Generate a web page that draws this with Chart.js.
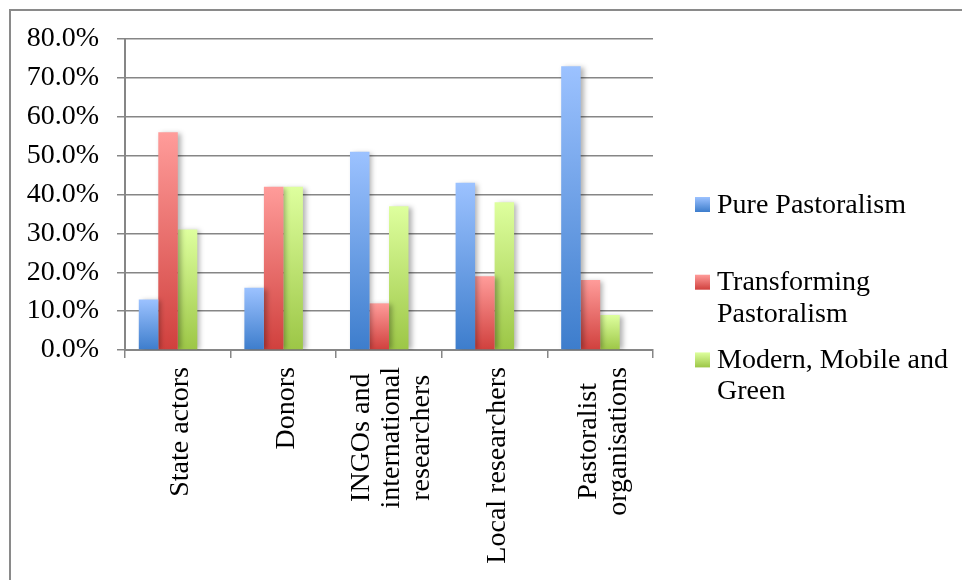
<!DOCTYPE html>
<html>
<head>
<meta charset="utf-8">
<script src="https://cdn.jsdelivr.net/npm/chart.js@4.4.1/dist/chart.umd.min.js"></script>
<style>
  html, body { margin: 0; padding: 0; background: #ffffff; overflow: hidden; }
  #wrap { position: relative; width: 962px; height: 580px; background: #ffffff; }
  #c { position: absolute; left: 0; top: 0; }
  #frame { position: absolute; left: 9px; top: 9px; width: 1000px; height: 1000px;
           border-left: 2px solid #8a8a8a; border-top: 2px solid #8a8a8a; pointer-events: none; }
</style>
</head>
<body>
<div id="wrap">
  <canvas id="c" width="962" height="580"></canvas>
  <div id="frame"></div>
</div>
<script>
// ---- data ----
const categories = [
  ['State actors'],
  ['Donors'],
  ['INGOs and', 'international', 'researchers'],
  ['Local researchers'],
  ['Pastoralist', 'organisations']
];
const seriesNames = ['Pure Pastoralism', 'Transforming Pastoralism', 'Modern, Mobile and Green'];
const legendLines = [
  ['Pure Pastoralism'],
  ['Transforming', 'Pastoralism'],
  ['Modern, Mobile and', 'Green']
];
const purePastoralism = [13, 16, 51, 43, 73];
const transformingPastoralism = [56, 42, 12, 19, 18];
const modernMobileGreen = [31, 42, 37, 38, 9];
const yTickValues = [0, 10, 20, 30, 40, 50, 60, 70, 80];

// ---- styles ----
const FONT = '"Liberation Serif", "DejaVu Serif", serif';
const FONT_SIZE = 28;
const GRID = '#868686';
const palettes = [
  { top: '#9cc2ff', bottom: '#3d7dcc' },
  { top: '#ff9c9a', bottom: '#d0403d' },
  { top: '#deff9e', bottom: '#9cc646' }
];

function barGradient(idx) {
  return function (ctx) {
    const chart = ctx.chart;
    const p = palettes[idx];
    if (!chart.chartArea || ctx.type !== 'data' || ctx.raw == null) return p.bottom;
    const ys = chart.scales.y;
    const y0 = ys.getPixelForValue(0);
    const y1 = ys.getPixelForValue(ctx.raw);
    if (!isFinite(y0) || !isFinite(y1) || y0 === y1) return p.bottom;
    const g = chart.ctx.createLinearGradient(0, y1, 0, y0);
    g.addColorStop(0, p.top);
    g.addColorStop(1, p.bottom);
    return g;
  };
}

const seriesValues = [purePastoralism, transformingPastoralism, modernMobileGreen];
const datasets = seriesValues.map((vals, i) => ({
  label: seriesNames[i],
  data: vals,
  backgroundColor: barGradient(i),
  borderWidth: 0
}));
// empty slot that keeps Excel's gap to the right of each group
datasets.push({ label: '', data: [], backgroundColor: 'rgba(0,0,0,0)', borderWidth: 0 });

const shadowPlugin = {
  id: 'barShadow',
  beforeDatasetsDraw(chart) {
    const c = chart.ctx;
    c.save();
    c.shadowColor = 'rgba(0,0,0,0.30)';
    c.shadowBlur = 5;
    c.shadowOffsetX = 3;
    c.shadowOffsetY = 1;
  },
  afterDatasetsDraw(chart) {
    chart.ctx.restore();
  }
};

const xLabelPlugin = {
  id: 'xLabels',
  afterDraw(chart) {
    const c = chart.ctx;
    const xs = chart.scales.x;
    const top = 367, lineH = 30, shift = 3;
    c.save();
    c.font = FONT_SIZE + 'px ' + FONT;
    c.fillStyle = '#000000';
    c.textAlign = 'center';
    c.textBaseline = 'middle';
    categories.forEach((lines, i) => {
      const px = xs.getPixelForValue(i);
      const maxW = Math.max(...lines.map(l => c.measureText(l).width));
      const cy = top + maxW / 2;
      const n = lines.length;
      lines.forEach((line, j) => {
        const dx = (j - (n - 1) / 2) * lineH + shift;
        c.save();
        c.translate(px + dx, cy);
        c.rotate(-Math.PI / 2);
        c.fillText(line, 0, 0);
        c.restore();
      });
    });
    c.restore();
  }
};

const legendPlugin = {
  id: 'sideLegend',
  afterDraw(chart) {
    const c = chart.ctx;
    const boxX = 695, textX = 717, box = 15;
    const firstBase = 212.5, itemStep = 77.7, lineStep = 31.5;
    c.save();
    c.font = FONT_SIZE + 'px ' + FONT;
    c.fillStyle = '#000000';
    c.textAlign = 'left';
    c.textBaseline = 'alphabetic';
    legendLines.forEach((lines, i) => {
      const base = firstBase + i * itemStep;
      const p = palettes[i];
      const by = base - box - 0.5;
      const g = c.createLinearGradient(0, by, 0, by + box);
      g.addColorStop(0, p.top);
      g.addColorStop(1, p.bottom);
      c.fillStyle = g;
      c.fillRect(boxX, by, box, box);
      c.fillStyle = '#000000';
      lines.forEach((line, j) => c.fillText(line, textX, base + j * lineStep));
    });
    c.restore();
  }
};

new Chart(document.getElementById('c'), {
  type: 'bar',
  data: { labels: categories.map(l => l.join(' ')), datasets },
  plugins: [shadowPlugin, xLabelPlugin, legendPlugin],
  options: {
    responsive: false,
    animation: false,
    devicePixelRatio: 1,
    layout: { padding: { top: 39, right: 309, left: 0, bottom: 0 } },
    datasets: { bar: { barPercentage: 1, categoryPercentage: 0.739 } },
    plugins: {
      legend: { display: false },
      tooltip: { enabled: false },
      title: { display: false }
    },
    scales: {
      x: {
        type: 'category',
        offset: true,
        grid: { display: true, offset: true, drawOnChartArea: false, drawTicks: true,
                tickLength: 8, color: GRID, lineWidth: 1.5 },
        border: { display: true, color: GRID, width: 2 },
        ticks: { display: false },
        afterFit(scale) { scale.height = 230; }
      },
      y: {
        min: 0, max: 80,
        afterBuildTicks(scale) { scale.ticks = yTickValues.map(v => ({ value: v })); },
        ticks: {
          padding: 18,
          color: '#000000',
          font: { family: FONT, size: FONT_SIZE },
          callback: v => Number(v).toFixed(1) + '%'
        },
        grid: { color: GRID, lineWidth: 1.5, tickLength: 8, drawTicks: true },
        border: { display: true, color: GRID, width: 2 },
        afterFit(scale) { scale.width = 125; }
      }
    }
  }
});
</script>
</body>
</html>
